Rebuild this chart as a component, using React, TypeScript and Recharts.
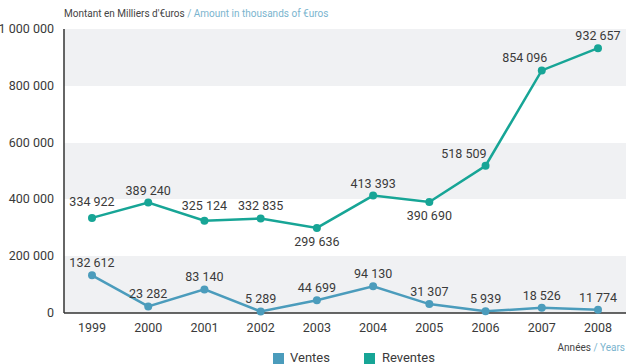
import React from 'react';
import { LineChart, Line, XAxis, YAxis, CartesianGrid, LabelList, Legend } from 'recharts';

const years = ['1999', '2000', '2001', '2002', '2003', '2004', '2005', '2006', '2007', '2008'];
const ventes = [132612, 23282, 83140, 5289, 44699, 94130, 31307, 5939, 18526, 11774];
const reventes = [334922, 389240, 325124, 332835, 299636, 413393, 390690, 518509, 854096, 932657];
const yTicks = [0, 200000, 400000, 600000, 800000, 1000000];

const data = years.map((year, i) => ({ year, ventes: ventes[i], reventes: reventes[i] }));

const FONT = 'Roboto, "Noto Sans", sans-serif';
const BLUE = '#4b9cbc';
const TEAL = '#17a596';
const TEXT = '#3a3a3a';

const fmt = (v: number) => String(v).replace(/\B(?=(\d{3})+(?!\d))/g, ' ');

// plain text tick so "1 000 000" does not wrap
const YTick = (props: any) => {
  const { x, y, payload } = props;
  return (
    <text x={x} y={y + 4} textAnchor="end" fontSize={12.5} fill={TEXT} fontFamily={FONT}>
      {fmt(payload.value)}
    </text>
  );
};

const VentesLabel = (props: any) => {
  const { x, y, value } = props;
  return (
    <text x={x} y={y - 8} textAnchor="middle" fontSize={12.5} fill={TEXT} fontFamily={FONT}>
      {fmt(value)}
    </text>
  );
};

// Reventes labels: some sit under the point or shift left to stay off the line
const ReventesLabel = (props: any) => {
  const { x, y, value, index } = props;
  let dx = 0;
  let dy = -8;
  let anchor: 'middle' | 'end' = 'middle';
  if (index === 0) dy = -12;
  if (index === 1) dy = -7;
  if (index === 2) dy = -11;
  if (index === 4 || index === 6) dy = 18;
  if (index === 7) { anchor = 'end'; dx = 1; }
  if (index === 8) dx = -17;
  return (
    <text x={x + dx} y={y + dy} textAnchor={anchor} fontSize={12.5} fill={TEXT} fontFamily={FONT}>
      {fmt(value)}
    </text>
  );
};

const LegendContent = () => (
  <div style={{ display: 'flex', fontFamily: FONT, fontSize: 13, color: TEXT, lineHeight: '12px' }}>
    <div style={{ display: 'flex', alignItems: 'center', marginRight: 34 }}>
      <span style={{ width: 11, height: 11, background: BLUE, display: 'inline-block', marginRight: 6 }} />
      Ventes
    </div>
    <div style={{ display: 'flex', alignItems: 'center' }}>
      <span style={{ width: 11, height: 11, background: TEAL, display: 'inline-block', marginRight: 7 }} />
      Reventes
    </div>
  </div>
);

export default function App() {
  return (
    <div style={{ position: 'absolute', left: 0, top: 0, width: 626, height: 364, overflow: 'hidden', background: '#fff' }}>
      <div style={{ position: 'absolute', left: 64, top: 8, fontFamily: FONT, fontSize: 10, color: '#444', whiteSpace: 'nowrap' }}>
        Montant en Milliers d'€uros <span style={{ color: '#7ab4ce' }}>/ Amount in thousands of €uros</span>
      </div>
      <div style={{ position: 'absolute', right: 1, top: 342, fontFamily: FONT, fontSize: 10, color: '#444', whiteSpace: 'nowrap' }}>
        Années <span style={{ color: '#7ab4ce' }}>/ Years</span>
      </div>
      <LineChart width={626} height={364} data={data} margin={{ top: 29, right: 0, bottom: 21, left: 0 }}>
        <CartesianGrid vertical={false} stroke="none" horizontalFill={['#f0f1f3', '#ffffff']} />
        <XAxis
          dataKey="year"
          padding={{ left: 28, right: 28 }}
          tickLine={false}
          axisLine={{ stroke: '#333', strokeWidth: 1.5 }}
          tick={{ fontSize: 12.5, fill: TEXT, fontFamily: FONT }}
          tickMargin={4}
          height={30}
        />
        <YAxis
          domain={[0, 1000000]}
          ticks={yTicks}
          tickLine={false}
          axisLine={{ stroke: '#333', strokeWidth: 1.5 }}
          tick={<YTick />}
          tickMargin={4}
          width={64}
          interval={0}
        />
        <Legend
          layout="horizontal"
          verticalAlign="middle"
          align="center"
          content={<LegendContent />}
          wrapperStyle={{ top: 352, left: 273, width: 300 }}
        />
        <Line
          type="linear"
          dataKey="ventes"
          name="Ventes"
          stroke={BLUE}
          strokeWidth={2.5}
          dot={{ r: 4, fill: BLUE, stroke: BLUE, strokeWidth: 0 }}
          isAnimationActive={false}
        >
          <LabelList dataKey="ventes" content={<VentesLabel />} />
        </Line>
        <Line
          type="linear"
          dataKey="reventes"
          name="Reventes"
          stroke={TEAL}
          strokeWidth={2.5}
          dot={{ r: 4, fill: TEAL, stroke: TEAL, strokeWidth: 0 }}
          isAnimationActive={false}
        >
          <LabelList dataKey="reventes" content={<ReventesLabel />} />
        </Line>
      </LineChart>
    </div>
  );
}
